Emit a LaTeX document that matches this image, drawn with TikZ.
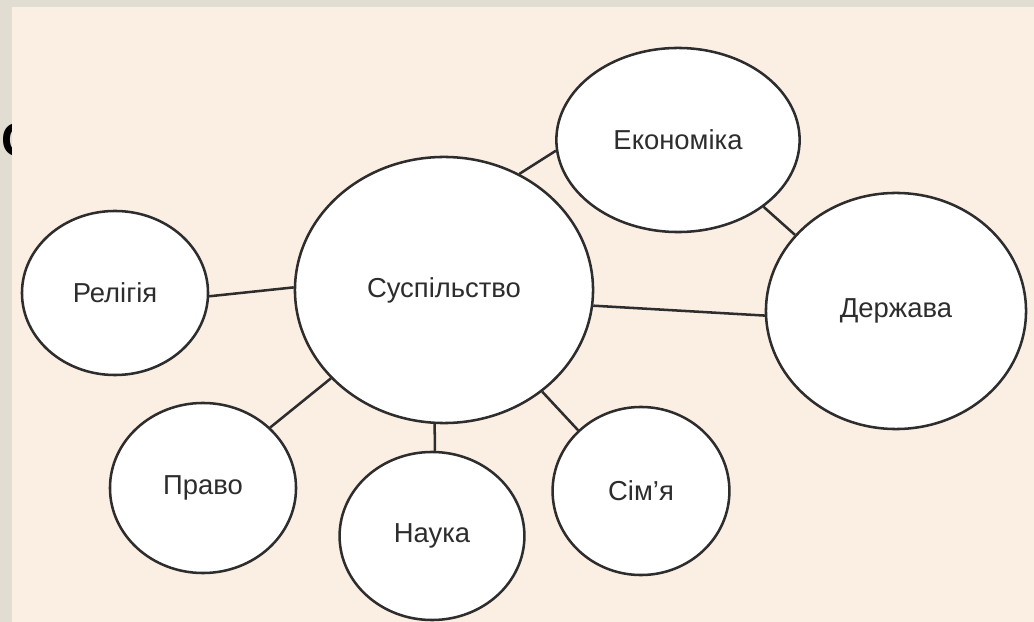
\documentclass[tikz,border=0pt]{standalone}
\usepackage{fontspec}
\setmainfont{Liberation Sans}
\usetikzlibrary{shapes.geometric}
\definecolor{panel}{RGB}{251,239,228}
\definecolor{frame}{RGB}{226,221,211}
\definecolor{ink}{RGB}{45,45,45}
\begin{document}
\begin{tikzpicture}[x=0.025cm,y=-0.025cm]
\path[use as bounding box] (0,0) rectangle (1034,622);

\tikzstyle{topic}=[ellipse,draw=ink,fill=white,line width=1.8pt,text=ink,inner sep=0pt,font=\fontsize{19.5}{22}\selectfont]
\tikzstyle{link}=[draw=ink,line width=1.8pt]

% slide background, title cut off by the panel
\fill[frame] (0,0) rectangle (1034,622);
\node[anchor=base west,inner sep=0pt,font=\bfseries\fontsize{34}{36}\selectfont] (title) at (1,157) {С};
\fill[panel] (12,7) rectangle (1034,622);

\node[topic,minimum width=7.45cm,minimum height=6.65cm] (susp) at (444,290) {Суспільство};
\node[topic,minimum width=6.08cm,minimum height=4.6cm] (econ) at (678,140) {Економіка};
\node[topic,minimum width=6.5cm,minimum height=5.9cm] (derzh) at (896,311) {Держава};
\node[topic,minimum width=4.65cm,minimum height=4.1cm] (rel) at (115,293) {Релігія};
\node[topic,minimum width=4.65cm,minimum height=4.25cm] (pravo) at (203,488) {Право};
\node[topic,minimum width=4.62cm,minimum height=4.2cm] (nauka) at (432,536) {Наука};
\node[topic,minimum width=4.42cm,minimum height=4.2cm] (simya) at (641,491) {Сім’я};

\draw[link] (rel.-2) -- (susp.179);
\draw[link] (susp.57) -- (econ.185);
\draw[link] (econ.-38) -- (derzh.143);
\draw[link] (susp.-6) -- (derzh.182);
\draw[link] (susp.218) -- (pravo.42);
\draw[link] (susp.266) -- (nauka.88);
\draw[link] (susp.-46) -- (simya.136);
\end{tikzpicture}
\end{document}
